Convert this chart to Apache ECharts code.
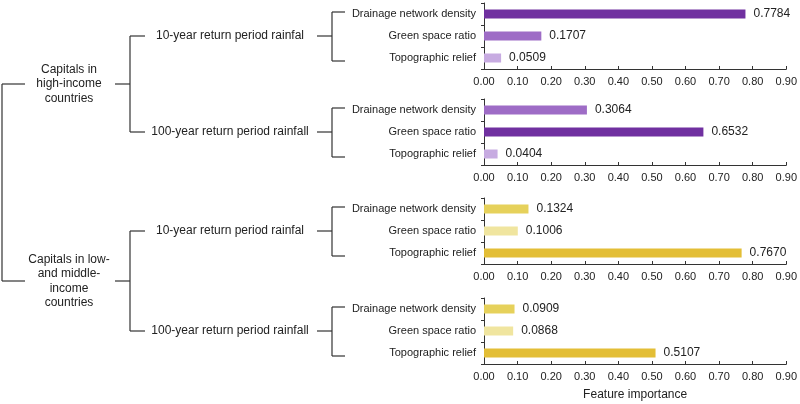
<!DOCTYPE html>
<html>
<head>
<meta charset="utf-8">
<script src="https://cdn.jsdelivr.net/npm/echarts@6/dist/echarts.min.js"></script>
<style>
html,body{margin:0;padding:0;background:#fff;}
#c{width:800px;height:404px;}
</style>
</head>
<body>
<div id="c"></div>
<script>
// ---- data ----
const features = ['Drainage network density', 'Green space ratio', 'Topographic relief'];
const groups = ['Capitals in\nhigh-income\ncountries', 'Capitals in low-\nand middle-\nincome\ncountries'];
const scenarios = ['10-year return period rainfal', '100-year return period rainfall'];
const highIncome10 = [0.7784, 0.1707, 0.0509];
const highIncome100 = [0.3064, 0.6532, 0.0404];
const lowMid10 = [0.1324, 0.1006, 0.7670];
const lowMid100 = [0.0909, 0.0868, 0.5107];
const xTicks = ['0.00','0.10','0.20','0.30','0.40','0.50','0.60','0.70','0.80','0.90'];
const purples = ['#7030A0', '#9E6CC6', '#C7ABE1']; // by rank: high, mid, low
const yellows = ['#E3BE36', '#E6D15B', '#F0E59F'];

const panels = [highIncome10, highIncome100, lowMid10, lowMid100];
const palettes = [purples, purples, yellows, yellows];
const gridTops = [3, 99, 198, 298];
const FONT = 'Liberation Sans, Arial, sans-serif';
const TXT = '#222';

const chart = echarts.init(document.getElementById('c'), null, {renderer: 'canvas'});

function rankColors(vals, pal) {
  const sorted = vals.slice().sort((a, b) => b - a);
  return vals.map(v => pal[sorted.indexOf(v)]);
}

const grid = [], xAxis = [], yAxis = [], series = [];
panels.forEach((vals, i) => {
  grid.push({left: 484, width: 304, top: gridTops[i], height: 66});
  xAxis.push({
    type: 'value', gridIndex: i, min: 0, max: 0.9, interval: 0.1,
    axisLine: {show: true, lineStyle: {color: '#333', width: 1}},
    axisTick: {show: true, inside: true, length: 3, lineStyle: {color: '#333'}},
    splitLine: {show: false},
    axisLabel: {color: TXT, fontSize: 11, fontFamily: FONT, margin: 7,
      formatter: v => xTicks[Math.round(v * 10)]},
    name: i === 3 ? 'Feature importance' : '',
    nameLocation: 'middle', nameGap: 25,
    nameTextStyle: {color: TXT, fontSize: 12, fontFamily: FONT}
  });
  yAxis.push({
    type: 'category', gridIndex: i, data: features, inverse: true,
    axisLine: {show: true, lineStyle: {color: '#333', width: 1}},
    axisTick: {show: true, length: 3, lineStyle: {color: '#333'}},
    axisLabel: {color: TXT, fontSize: 11, fontFamily: FONT, margin: 8}
  });
  const cols = rankColors(vals, palettes[i]);
  series.push({
    type: 'bar', xAxisIndex: i, yAxisIndex: i, barWidth: 9,
    data: vals.map((v, k) => ({value: v, itemStyle: {color: cols[k]}})),
    label: {show: true, position: 'right', distance: 8, color: TXT, fontSize: 12,
      fontFamily: FONT, formatter: p => p.value.toFixed(4)},
    silent: true, animation: false
  });
});

chart.setOption({animation: false, grid, xAxis, yAxis, series});

// ---- tree decoration derived from axis positions ----
const LS = {stroke: '#333', lineWidth: 1.2};
const g = [];
function line(x1, y1, x2, y2) {
  g.push({type: 'line', shape: {x1, y1, x2, y2}, style: LS, silent: true});
}
function text(x, y, s) {
  g.push({type: 'text', x, y, silent: true,
    style: {text: s, fill: TXT, font: '12px ' + FONT, align: 'center', verticalAlign: 'middle', lineHeight: 14.5}});
}
const mids = [];
panels.forEach((vals, i) => {
  const c0 = chart.convertToPixel({yAxisIndex: i}, features[0]);
  const c1 = chart.convertToPixel({yAxisIndex: i}, features[1]);
  const c2 = chart.convertToPixel({yAxisIndex: i}, features[2]);
  const t = c0 - 2, b = c2 + 3;
  line(332, t, 345, t);
  line(332, b, 345, b);
  line(332, t, 332, b);
  line(317, c1, 332, c1);
  mids.push(c1);
  text(230, c1, scenarios[i % 2]);
});
const tops = [];
[0, 1].forEach(j => {
  const a = mids[2 * j], b = mids[2 * j + 1];
  line(130, a, 145, a);
  line(130, b, 145, b);
  line(130, a, 130, b);
  const m = (a + b) / 2;
  line(115, m, 130, m);
  tops.push(m);
  text(69, m, groups[j]);
});
line(2, tops[0], 25, tops[0]);
line(2, tops[1], 25, tops[1]);
line(2, tops[0], 2, tops[1]);
chart.setOption({graphic: g});
</script>
</body>
</html>
